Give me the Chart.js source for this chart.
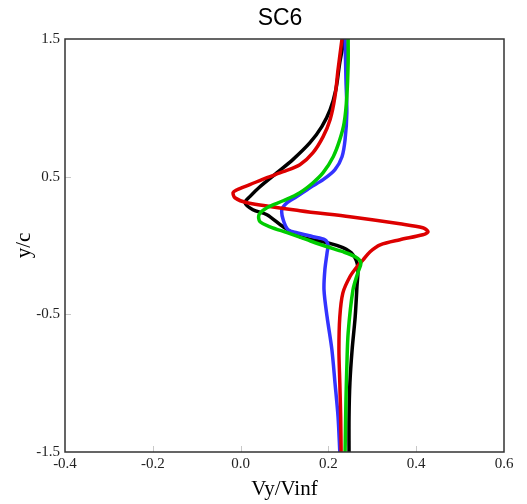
<!DOCTYPE html>
<html>
<head>
<meta charset="utf-8">
<script src="https://cdn.jsdelivr.net/npm/chart.js@4/dist/chart.umd.min.js"></script>
<style>
html,body{margin:0;padding:0;background:#fff;}
#wrap{width:527px;height:504px;position:relative;}
</style>
</head>
<body>
<div id="wrap"><canvas id="c" width="527" height="504"></canvas></div>
<script>
const chartTitle = "SC6";
const xTitle = "Vy/Vinf";
const yTitle = "y/c";
const xTickValues = [-0.4, -0.2, 0.0, 0.2, 0.4, 0.6];
const yTickValues = [-1.5, -0.5, 0.5, 1.5];

const blackY = [1.5, 1.329, 1.133, 0.987, 0.864, 0.747, 0.624, 0.529, 0.427, 0.355, 0.311, 0.260, 0.224, 0.136, 0.064, 0.020, -0.016, -0.067, -0.155, -0.300, -0.518, -0.758, -0.998, -1.245, -1.5];
const blackX = [0.236, 0.226, 0.217, 0.204, 0.185, 0.158, 0.119, 0.083, 0.044, 0.021, 0.010, 0.028, 0.060, 0.097, 0.135, 0.197, 0.233, 0.256, 0.267, 0.265, 0.261, 0.254, 0.249, 0.247, 0.247];

const redY = [1.5, 1.278, 1.082, 0.915, 0.791, 0.675, 0.587, 0.536, 0.493, 0.442, 0.405, 0.385, 0.347, 0.311, 0.253, 0.209, 0.158, 0.129, 0.100, 0.078, 0.042, 0.005, -0.045, -0.104, -0.155, -0.227, -0.344, -0.518, -0.758, -0.998, -1.245, -1.5];
const redX = [0.231, 0.222, 0.215, 0.204, 0.188, 0.165, 0.135, 0.097, 0.060, 0.021, -0.008, -0.017, -0.013, 0.015, 0.135, 0.249, 0.363, 0.415, 0.427, 0.415, 0.363, 0.318, 0.295, 0.279, 0.265, 0.249, 0.233, 0.226, 0.224, 0.226, 0.228, 0.229];

const blueY = [1.5, 1.205, 0.965, 0.769, 0.645, 0.551, 0.478, 0.420, 0.355, 0.311, 0.260, 0.187, 0.115, 0.093, 0.064, 0.042, 0.005, -0.053, -0.176, -0.322, -0.518, -0.758, -0.998, -1.245, -1.5];
const blueX = [0.238, 0.240, 0.242, 0.238, 0.231, 0.215, 0.188, 0.158, 0.128, 0.106, 0.094, 0.097, 0.108, 0.128, 0.165, 0.192, 0.199, 0.197, 0.192, 0.190, 0.197, 0.208, 0.215, 0.222, 0.226];

const greenY = [1.5, 1.329, 1.082, 0.893, 0.769, 0.645, 0.529, 0.456, 0.384, 0.325, 0.275, 0.224, 0.173, 0.136, 0.093, 0.042, -0.009, -0.045, -0.082, -0.125, -0.198, -0.322, -0.635, -0.882, -1.122, -1.5];
const greenX = [0.245, 0.245, 0.242, 0.236, 0.226, 0.211, 0.188, 0.165, 0.135, 0.097, 0.060, 0.042, 0.044, 0.067, 0.106, 0.151, 0.197, 0.233, 0.261, 0.274, 0.267, 0.256, 0.245, 0.242, 0.240, 0.238];

function pts(xs, ys){ return xs.map((x,i)=>({x:x, y:ys[i]})); }

const frameTicks = {
  id:'frameTicks',
  afterDatasetsDraw(chart){
    const {ctx, chartArea:a, scales} = chart;
    ctx.save();
    ctx.strokeStyle = '#c8c8c8';
    ctx.lineWidth = 1;
    xTickValues.forEach(v=>{
      if (v <= -0.4 || v >= 0.6) return;
      const px = Math.round(scales.x.getPixelForValue(v)) + 0.5;
      ctx.beginPath(); ctx.moveTo(px, a.bottom); ctx.lineTo(px, a.bottom - 6); ctx.stroke();
    });
    yTickValues.forEach(v=>{
      if (v <= -1.5 || v >= 1.5) return;
      const py = Math.round(scales.y.getPixelForValue(v)) + 0.5;
      ctx.beginPath(); ctx.moveTo(a.left, py); ctx.lineTo(a.left + 6, py); ctx.stroke();
    });
    ctx.strokeStyle = '#333';
    ctx.lineWidth = 1.5;
    ctx.strokeRect(a.left, a.top, a.right - a.left, a.bottom - a.top);
    ctx.fillStyle = '#000';
    ctx.font = '23px "Liberation Sans", Arial, sans-serif';
    ctx.textAlign = 'center';
    ctx.textBaseline = 'middle';
    ctx.fillText(chartTitle, 280, 19);
    ctx.restore();
  }
};

new Chart(document.getElementById('c'), {
  type: 'scatter',
  data: {
    datasets: [
      {label:'green', data: pts(greenX, greenY), borderColor:'#00cc00'},
      {label:'red', data: pts(redX, redY), borderColor:'#dd0000'},
      {label:'blue', data: pts(blueX, blueY), borderColor:'#3333ff'},
      {label:'black', data: pts(blackX, blackY), borderColor:'#000000'}
    ].map(d=>Object.assign(d, {showLine:true, pointRadius:0, borderWidth:3.5, tension:0.3, fill:false}))
  },
  options: {
    responsive:false,
    animation:false,
    devicePixelRatio:1,
    layout:{padding:{left:0, right:23, top:39, bottom:0}},
    plugins:{legend:{display:false}, tooltip:{enabled:false}, title:{display:false}},
    scales:{
      x:{
        type:'linear', min:-0.4, max:0.6,
        afterBuildTicks(s){ s.ticks = xTickValues.map(v=>({value:v})); },
        afterFit(s){ s.height = 52; },
        grid:{display:false, drawTicks:false},
        border:{display:false},
        ticks:{padding:3, color:'#222', font:{family:'"Liberation Serif", "Times New Roman", serif', size:15}, maxRotation:0,
          callback:(v)=>Number(v).toFixed(1)},
        title:{display:true, text:xTitle, color:'#000', padding:{top:0,bottom:2}, font:{family:'"Liberation Serif", "Times New Roman", serif', size:21}}
      },
      y:{
        type:'linear', min:-1.5, max:1.5,
        afterBuildTicks(s){ s.ticks = yTickValues.map(v=>({value:v})); },
        afterFit(s){ s.width = 65; },
        grid:{display:false, drawTicks:false},
        border:{display:false},
        ticks:{padding:5, color:'#222', font:{family:'"Liberation Serif", "Times New Roman", serif', size:15},
          callback:(v)=>Number(v).toFixed(1)},
        title:{display:true, text:yTitle, color:'#000', padding:{top:12,bottom:0}, font:{family:'"Liberation Serif", "Times New Roman", serif', size:21}}
      }
    }
  },
  plugins:[frameTicks]
});
</script>
</body>
</html>
